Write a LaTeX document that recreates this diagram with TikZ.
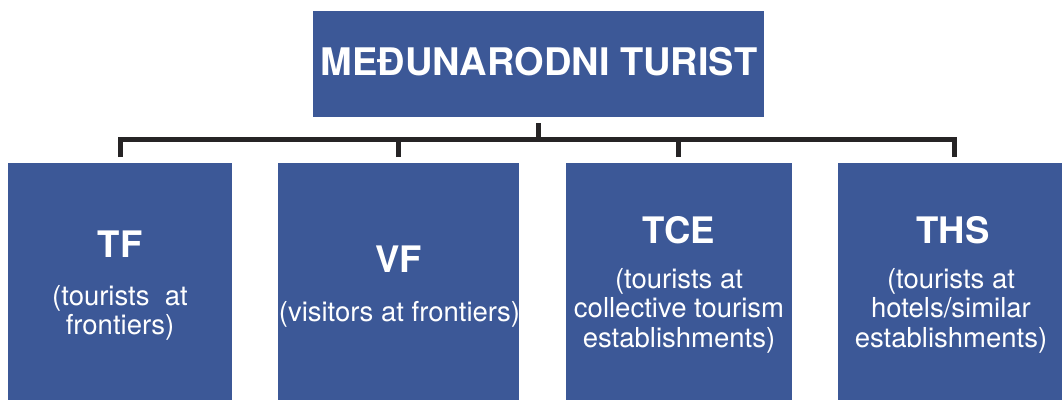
\documentclass[tikz,border=0pt]{standalone}
\usepackage{fontspec}
\setmainfont{TeX Gyre Heros}
\definecolor{boxblue}{RGB}{60,88,151}
\definecolor{linegray}{RGB}{38,36,37}
\begin{document}
\begin{tikzpicture}[x=1pt,y=-1pt,
  bluebox/.style={draw=none,fill=boxblue,inner sep=0pt,outer sep=0pt,rectangle},
  conn/.style={draw=linegray,line width=5pt,line join=miter,line cap=butt},
  headtxt/.style={text=white,font=\fontsize{38}{42}\selectfont\bfseries,inner sep=0pt,anchor=base},
  boxtitle/.style={text=white,font=\fontsize{36.5}{40}\selectfont\bfseries,inner sep=0pt,anchor=base},
  boxdesc/.style={text=white,font=\fontsize{27.5}{29.5}\selectfont,inner sep=0pt,align=center,anchor=north}]
\useasboundingbox (0,0) rectangle (1062,399);
% boxes
\node[bluebox,minimum width=451pt,minimum height=106pt] (top) at (538.5,64) {};
\node[bluebox,minimum width=224pt,minimum height=237pt] (b1) at (120,281.5) {};
\node[bluebox,minimum width=241pt,minimum height=237pt] (b2) at (398.5,281.5) {};
\node[bluebox,minimum width=226pt,minimum height=237pt] (b3) at (679,281.5) {};
\node[bluebox,minimum width=225pt,minimum height=237pt] (b4) at (950.5,281.5) {};
% texts
\node[headtxt] (toptxt) at (539,75) {MEĐUNARODNI TURIST};
\node[boxtitle] (t1) at (120,257) {TF};
\node[boxdesc] (d1) at (120,285) {(tourists\ \ at\\frontiers)};
\node[boxtitle] (t2) at (398.5,272) {VF};
\node[boxdesc] (d2) at (399.5,301) {(visitors at frontiers)};
\node[boxtitle] (t3) at (679,243) {TCE};
\node[boxdesc] (d3) at (679,268) {(tourists at\\collective tourism\\establishments)};
\node[boxtitle] (t4) at (953,243) {THS};
\node[boxdesc] (d4) at (951,268) {(tourists at\\hotels/similar\\establishments)};
% connectors
\coordinate (bus) at (538.5,139);
\draw[conn] ([yshift=-6pt]top.south) -- (bus);
\draw[conn] ([yshift=6pt]b1.north) -- (b1.north |- bus) -- ([xshift=4pt]b4.north |- bus) -- ([xshift=4pt,yshift=6pt]b4.north);
\draw[conn] ([yshift=6pt]b2.north) -- (b2.north |- bus);
\draw[conn] ([xshift=-1pt,yshift=6pt]b3.north) -- ([xshift=-1pt]b3.north |- bus);
\end{tikzpicture}
\end{document}
